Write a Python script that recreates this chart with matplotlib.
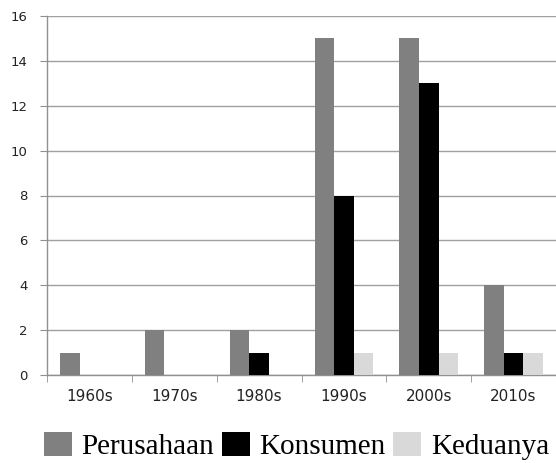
import numpy as np
import matplotlib
matplotlib.use("Agg", force=True)
import matplotlib.pyplot as plt

# data
decades = ["1960s", "1970s", "1980s", "1990s", "2000s", "2010s"]
perusahaan = [1, 2, 2, 15, 15, 4]
konsumen = [0, 0, 1, 8, 13, 1]
keduanya = [0, 0, 0, 1, 1, 1]
series_names = ["Perusahaan", "Konsumen", "Keduanya"]
series_colors = ["#808080", "#000000", "#d9d9d9"]
y_ticks = [0, 2, 4, 6, 8, 10, 12, 14, 16]

fig = plt.figure(figsize=(5.56, 4.63), dpi=100)
ax = fig.add_axes([47 / 556, 1 - 375 / 463, 1 - 47 / 556, (375 - 16) / 463])

x = np.arange(len(decades))
w = 0.23
for i, (vals, name, col) in enumerate(zip([perusahaan, konsumen, keduanya], series_names, series_colors)):
    ax.bar(x + (i - 1) * w, vals, width=w, color=col, label=name, zorder=3)

ax.set_xlim(-0.5, len(decades) - 0.5)
ax.set_ylim(0, 16)
ax.set_yticks(y_ticks)
ax.set_yticklabels([str(t) for t in y_ticks], fontsize=9.5, color="#222222")
ax.yaxis.grid(True, color="#a0a0a0", linewidth=1.0, zorder=0)

ax.set_xticks(x)
ax.set_xticklabels(decades, fontsize=11, color="#222222")
ax.set_xticks(np.arange(len(decades) + 1) - 0.5, minor=True)
ax.tick_params(axis="x", which="major", length=0, pad=10)
ax.tick_params(axis="x", which="minor", length=5, color="#909090", direction="out")
ax.tick_params(axis="y", length=5, color="#909090", pad=9)

for s in ["top", "right"]:
    ax.spines[s].set_visible(False)
for s in ["left", "bottom"]:
    ax.spines[s].set_color("#909090")
    ax.spines[s].set_linewidth(1.0)

handles, labels = ax.get_legend_handles_labels()
fig.legend(handles, labels, loc="center", bbox_to_anchor=(0.533, 0.037), ncol=3,
           frameon=False, borderpad=0, handlelength=0.97, handleheight=0.9,
           handletextpad=0.33, columnspacing=0.25,
           prop={"family": "Liberation Serif", "size": 21})

fig.savefig("out.png", dpi=100)
